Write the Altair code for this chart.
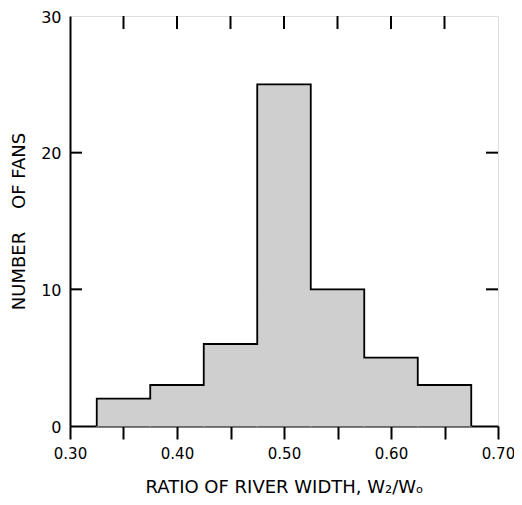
import altair as alt
import pandas as pd

# ---- data ----
bin_start = [0.325, 0.375, 0.425, 0.475, 0.525, 0.575, 0.625]
bin_end = [0.375, 0.425, 0.475, 0.525, 0.575, 0.625, 0.675]
counts = [2, 3, 6, 25, 10, 5, 3]
x_ticks = [0.30, 0.35, 0.40, 0.45, 0.50, 0.55, 0.60, 0.65, 0.70]
x_inner_ticks = [0.35, 0.40, 0.45, 0.50, 0.55, 0.60, 0.65]
y_ticks = [0, 10, 20, 30]
y_inner_ticks = [10, 20]

FONT = "DejaVu Sans"
W, H = 428, 410
FILL = "#cfcfcf"

bars_df = pd.DataFrame({"x0": bin_start, "x1": bin_end, "n": counts})

# outline of the histogram (step shape) built from the arrays above
ox = [bin_start[0]] + bin_start + [bin_end[-1], bin_end[-1]]
oy = [0] + counts + [counts[-1], 0]
outline_df = pd.DataFrame({"x": ox, "y": oy, "o": list(range(len(ox)))})

xscale = alt.Scale(domain=[0.30, 0.70], nice=False, zero=False)
yscale = alt.Scale(domain=[0, 30], nice=False)

fill = alt.Chart(bars_df).mark_bar(
    color=FILL, stroke=FILL, strokeWidth=1.2, opacity=1
).encode(
    x=alt.X("x0:Q", scale=xscale, axis=alt.Axis(
        values=x_ticks,
        labelExpr="round(datum.value*20) % 2 == 0 ? format(datum.value, '.2f') : ''",
        tickSize=13, tickWidth=2, tickColor="black",
        domainWidth=2, domainColor="black",
        labelFont=FONT, labelFontSize=15, labelColor="black", labelPadding=7,
        labelFlush=False, labelOverlap=False,
        title="RATIO OF RIVER WIDTH, W\u2082/W\u2092",
        titleFont=FONT, titleFontSize=18, titleFontWeight="normal", titleColor="black",
        titleBaseline="alphabetic", titleY=66, grid=False,
    )),
    x2="x1:Q",
    y=alt.Y("n:Q", scale=yscale, axis=alt.Axis(
        values=y_ticks, ticks=False,
        domainWidth=2, domainColor="black",
        labelFont=FONT, labelFontSize=16, labelColor="black", labelPadding=9,
        labelOffset=1, labelFlush=False, labelOverlap=False,
        title="NUMBER\u00a0\u00a0\u00a0 OF FANS",
        titleFont=FONT, titleFontSize=18, titleFontWeight="normal", titleColor="black",
        titleAngle=270, titleBaseline="middle", titleX=-51, titleY=H / 2, grid=False,
    )),
    y2=alt.datum(0),
)

outline = alt.Chart(outline_df).mark_line(
    interpolate="step-after", color="black", strokeWidth=1.8
).encode(
    x=alt.X("x:Q", scale=xscale),
    y=alt.Y("y:Q", scale=yscale),
    order="o:Q",
)

top_ticks = alt.Chart(pd.DataFrame({"t": x_inner_ticks})).mark_rule(
    color="black", strokeWidth=2
).encode(x=alt.X("t:Q", scale=xscale), y=alt.value(0), y2=alt.value(13))

left_ticks = alt.Chart(pd.DataFrame({"t": y_inner_ticks})).mark_rule(
    color="black", strokeWidth=2
).encode(y=alt.Y("t:Q", scale=yscale), x=alt.value(0), x2=alt.value(12))

right_ticks = alt.Chart(pd.DataFrame({"t": y_inner_ticks})).mark_rule(
    color="black", strokeWidth=2
).encode(y=alt.Y("t:Q", scale=yscale), x=alt.value(W - 12), x2=alt.value(W))

chart = alt.layer(fill, outline, top_ticks, left_ticks, right_ticks).properties(
    width=W, height=H,
    autosize=alt.AutoSizeParams(type="none"),
    padding={"left": 62, "top": 8, "right": 16, "bottom": 69},
).configure_view(stroke="black", strokeWidth=2).configure(background="white")

chart.save("out.html", embed_options={"renderer": "svg", "actions": False})
